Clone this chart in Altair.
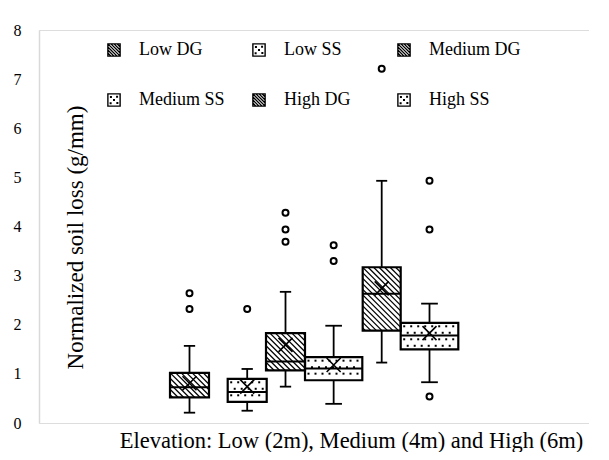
import altair as alt
import pandas as pd

# ---------------- data ----------------
groups = ["Low DG", "Low SS", "Medium DG", "Medium SS", "High DG", "High SS"]
fill_kind = ["DG", "SS", "DG", "SS", "DG", "SS"]
q1 = [0.52, 0.43, 1.07, 0.87, 1.88, 1.50]
median = [0.73, 0.63, 1.25, 1.11, 2.63, 1.78]
q3 = [1.02, 0.90, 1.83, 1.34, 3.17, 2.04]
whisker_low = [0.21, 0.25, 0.74, 0.39, 1.23, 0.83]
whisker_high = [1.57, 1.10, 2.67, 1.98, 4.93, 2.43]
mean = [0.81, 0.74, 1.59, 1.18, 2.74, 1.83]
outlier_group = ["Low DG", "Low DG", "Low SS", "Medium DG", "Medium DG", "Medium DG",
                 "Medium SS", "Medium SS", "High DG", "High SS", "High SS", "High SS"]
outlier_value = [2.64, 2.32, 2.32, 4.28, 3.94, 3.69, 3.62, 3.30, 7.21, 4.93, 3.94, 0.54]
y_ticks = [0, 1, 2, 3, 4, 5, 6, 7, 8]
x_title = "Elevation: Low (2m), Medium (4m) and High (6m)"
y_title = "Normalized soil loss (g/mm)"

# ---------------- layout ----------------
PLOT_W, PLOT_H = 550, 393
Y_MAX = 8
slot_left = [131, 188.7, 227, 266, 323.7, 361.7]
slot_width = [39, 39, 39, 57.3, 38, 57.6]
legend_col_x = [75, 220, 365]
legend_row_px = [20, 70]
legend_text_dx = 25
FONT = "Times New Roman, Liberation Serif, DejaVu Serif, serif"
ky = PLOT_H / Y_MAX

boxes = pd.DataFrame({
    "group": groups, "kind": fill_kind, "q1": q1, "median": median, "q3": q3,
    "wlo": whisker_low, "whi": whisker_high, "mean": mean,
    "left": slot_left,
    "right": [l + w for l, w in zip(slot_left, slot_width)],
    "center": [l + w / 2 for l, w in zip(slot_left, slot_width)],
    "capl": [l + w / 2 - 0.145 * w for l, w in zip(slot_left, slot_width)],
    "capr": [l + w / 2 + 0.145 * w for l, w in zip(slot_left, slot_width)],
})
center_of = dict(zip(groups, boxes["center"]))
outliers = pd.DataFrame({"group": outlier_group, "value": outlier_value})
outliers["center"] = outliers["group"].map(center_of)

# hatch lines (DG) and dots (SS) texture derived from each box
hatch, dots = [], []
STEP = 5.5
for kind, l, w, lo, hi in zip(fill_kind, slot_left, slot_width, q1, q3):
    X0, X1 = l, l + w
    Y0, Y1 = (Y_MAX - hi) * ky, (Y_MAX - lo) * ky
    if kind == "DG":
        c = X0 - Y1 + STEP / 2
        while c < X1 - Y0:
            ya, yb = max(Y0, X0 - c), min(Y1, X1 - c)
            if yb > ya:
                hatch.append({"x": ya + c, "x2": yb + c,
                              "y": Y_MAX - ya / ky, "y2": Y_MAX - yb / ky})
            c += STEP
    else:
        k, Y = 0, Y0 + 3.5
        while Y < Y1 - 2:
            X = X0 + 3.5 + (k % 2) * 3.5
            while X < X1 - 2:
                dots.append({"x": X, "y": Y_MAX - Y / ky})
                X += 7
            Y += 6.5
            k += 1
hatch = pd.DataFrame(hatch)
dots = pd.DataFrame(dots)

legend = pd.DataFrame({
    "group": groups, "kind": fill_kind,
    "x": [legend_col_x[i % 3] for i in range(6)],
    "tx": [legend_col_x[i % 3] + legend_text_dx for i in range(6)],
    "y": [Y_MAX - legend_row_px[i // 3] / ky for i in range(6)],
})

# legend symbol paths
def hatch_path():
    p = "M-1,-1H1V1H-1Z"
    for c in [-1.5, -1.0, -0.5, 0.0, 0.5, 1.0, 1.5]:
        ya, yb = max(-1, -1 - c), min(1, 1 - c)
        p += f"M{ya + c:.2f},{ya:.2f}L{yb + c:.2f},{yb:.2f}"
    return p

def dot_path():
    p = "M-1,-1H1V1H-1Z"
    for (dx, dy) in [(-0.55, -0.55), (0.45, -0.6), (-0.05, -0.05), (-0.6, 0.5), (0.5, 0.45)]:
        p += f"M{dx:.2f},{dy:.2f}h0.1v0.1h-0.1Z"
    return p

X_PATH = "M-1,-1L1,1M1,-1L-1,1"

xscale = alt.Scale(domain=[0, PLOT_W])
yscale = alt.Scale(domain=[0, Y_MAX])
xaxis = alt.Axis(domain=False, ticks=False, labels=False, grid=False, title=x_title,
                 titleFont=FONT, titleFontSize=22.5, titleFontWeight="normal",
                 titleColor="black", titleX=312, titleY=17, titleBaseline="middle",
                 titleAlign="center")
yaxis = alt.Axis(values=y_ticks, domainColor="#d9d9d9", domainWidth=1.5, ticks=False,
                 tickSize=0, grid=False, labelFont=FONT, labelFontSize=16,
                 labelColor="black", labelPadding=18, title=y_title, titleFont=FONT,
                 titleFontSize=23, titleFontWeight="normal", titleColor="black",
                 titleX=36, titleY=207, titleAngle=270, titleBaseline="middle",
                 titleAlign="center")

def X(f):
    return alt.X(f, type="quantitative", scale=xscale, axis=xaxis)

def Y(f):
    return alt.Y(f, type="quantitative", scale=yscale, axis=yaxis)

base = alt.Chart(boxes)

box_fill = base.mark_rect(fill="white", stroke=None).encode(
    x=X("left"), x2="right", y=Y("q1"), y2="q3")

hatch_layer = alt.Chart(hatch).mark_rule(color="black", strokeWidth=1.3).encode(
    x=X("x"), x2="x2", y=Y("y"), y2="y2")

dot_layer = alt.Chart(dots).mark_square(color="black", size=4, opacity=1).encode(
    x=X("x"), y=Y("y"))

box_border = base.mark_rect(fill="white", fillOpacity=0, stroke="black",
                            strokeWidth=2.2).encode(
    x=X("left"), x2="right", y=Y("q1"), y2="q3")

median_rule = base.mark_rule(color="black", strokeWidth=2).encode(
    x=X("left"), x2="right", y=Y("median"))

whisker_up = base.mark_rule(color="black", strokeWidth=1.8).encode(
    x=X("center"), y=Y("q3"), y2="whi")
whisker_dn = base.mark_rule(color="black", strokeWidth=1.8).encode(
    x=X("center"), y=Y("q1"), y2="wlo")
cap_up = base.mark_rule(color="black", strokeWidth=1.8).encode(
    x=X("capl"), x2="capr", y=Y("whi"))
cap_dn = base.mark_rule(color="black", strokeWidth=1.8).encode(
    x=X("capl"), x2="capr", y=Y("wlo"))

mean_mark = base.mark_point(shape=X_PATH, size=196, filled=False, color="black",
                            strokeWidth=1.6, opacity=1).encode(
    x=X("center"), y=Y("mean"))

outlier_mark = alt.Chart(outliers).mark_point(shape="circle", size=36, filled=True,
                                              fill="white", stroke="black",
                                              strokeWidth=2, opacity=1).encode(
    x=X("center"), y=Y("value"))

legend_sym = alt.Chart(legend).mark_point(size=150, filled=True, fill="white",
                                          stroke="black", strokeWidth=1.4,
                                          opacity=1).encode(
    x=X("x"), y=Y("y"),
    shape=alt.Shape("kind:N", scale=alt.Scale(domain=["DG", "SS"],
                                               range=[hatch_path(), dot_path()]),
                    legend=None))

legend_txt = alt.Chart(legend).mark_text(align="left", baseline="middle", font=FONT,
                                         fontSize=18, color="black").encode(
    x=X("tx"), y=Y("y"), text="group:N")

chart = alt.layer(
    box_fill, hatch_layer, dot_layer, whisker_up, whisker_dn, cap_up, cap_dn,
    box_border, median_rule, mean_mark, outlier_mark, legend_sym, legend_txt
).properties(
    width=PLOT_W, height=PLOT_H,
    autosize=alt.AutoSizeParams(type="none"),
    padding={"left": 31, "top": 22, "right": 0, "bottom": 29},
).configure_view(stroke=None).configure(background="white")

chart.save("out.html", embed_options={"renderer": "svg", "actions": False})
